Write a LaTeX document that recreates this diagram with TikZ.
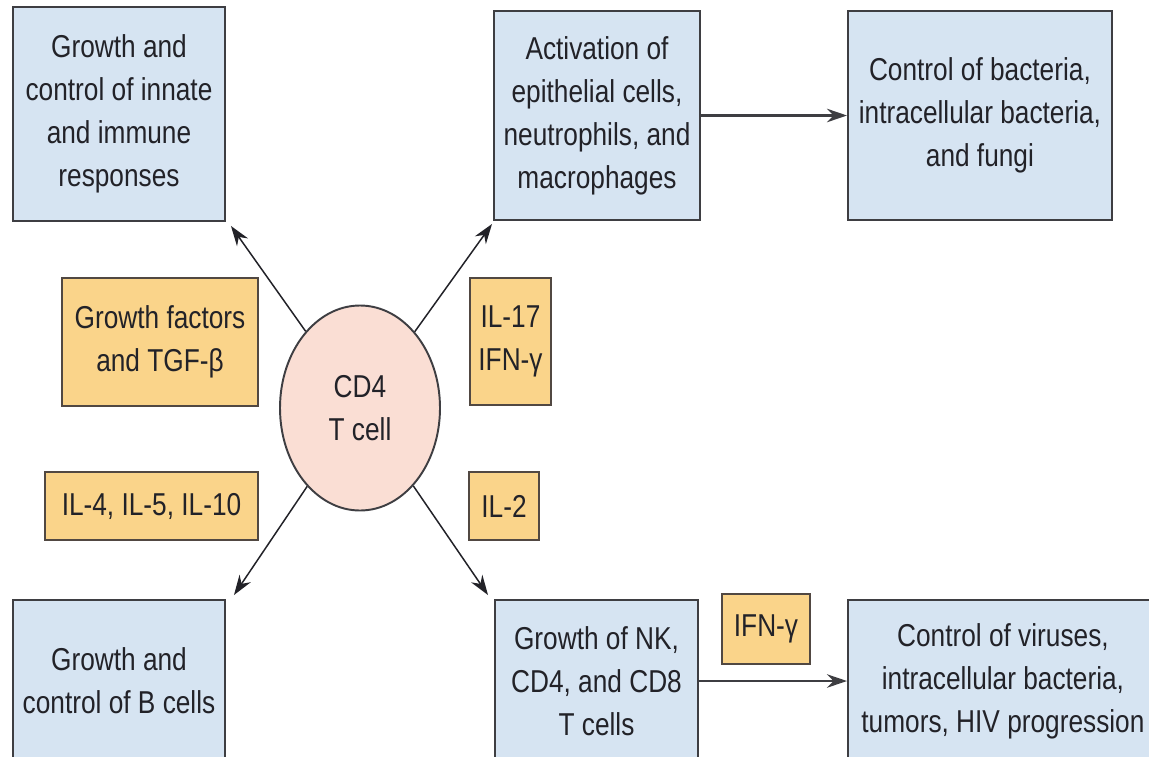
\documentclass[tikz,border=0pt]{standalone}
\usepackage{fontspec}
\setmainfont{Liberation Sans}[FakeStretch=0.83]
\usepackage{tikz}
\usetikzlibrary{shapes.geometric, arrows.meta, positioning}
\definecolor{boxblue}{RGB}{214,228,242}
\definecolor{cytogold}{RGB}{250,212,138}
\definecolor{cellpink}{RGB}{250,222,212}
\definecolor{edgegrey}{RGB}{62,62,66}
\definecolor{inkgrey}{RGB}{34,34,40}

\begin{document}
\begin{tikzpicture}[
  box/.style={rectangle, draw=edgegrey, line width=1.1pt, fill=boxblue, align=center,
              text=inkgrey, inner sep=0pt, font=\fontsize{18}{24.5}\selectfont},
  cyto/.style={box, fill=cytogold, draw=edgegrey!85!brown},
  cell/.style={ellipse, draw=edgegrey, line width=1.1pt, fill=cellpink, align=center,
               text=inkgrey, inner sep=0pt, minimum width=3.2cm, minimum height=4.1cm,
               font=\fontsize{18}{24.5}\selectfont},
  arr/.style={-{Stealth[length=4mm, width=2.7mm]}, draw=inkgrey, line width=0.85pt},
  harr/.style={arr, draw=edgegrey, line width=1.3pt}
]
\useasboundingbox (0,0) rectangle (22.98,-15.12);

\node[cell] (tcell) at (7.2,-8.16) {CD4\\ T cell};

\node[box, minimum width=4.24cm, minimum height=4.28cm] (innate) at (2.38,-2.28)
  {Growth and\\ control of innate\\ and immune\\ responses};
\node[box, minimum width=4.12cm, minimum height=4.18cm] (activ) at (11.94,-2.31)
  {Activation of\\ epithelial cells,\\ neutrophils, and\\ macrophages};
\node[box, minimum width=5.28cm, minimum height=4.18cm, right=2.92cm of activ] (bact)
  {Control of bacteria,\\ intracellular bacteria,\\ and fungi};

\node[cyto, minimum width=3.92cm, minimum height=2.56cm] (tgf) at (3.2,-6.84)
  {Growth factors\\ and TGF-β};
\node[cyto, minimum width=1.62cm, minimum height=2.54cm] (il17) at (10.21,-6.83)
  {IL-17\\ IFN-γ};
\node[cyto, minimum width=4.26cm, minimum height=1.36cm] (il4) at (3.03,-10.12)
  {IL-4, IL-5, IL-10};
\node[cyto, minimum width=1.4cm, minimum height=1.36cm] (il2) at (10.08,-10.12)
  {IL-2};

\node[box, minimum width=4.24cm, minimum height=3.24cm] (bcell) at (2.38,-13.62)
  {Growth and\\ control of B cells};
\node[box, minimum width=4.06cm, minimum height=3.24cm] (nkgrow) at (11.93,-13.62)
  {Growth of NK,\\ CD4, and CD8\\ T cells};
\node[box, minimum width=6.2cm, minimum height=3.24cm, right=2.96cm of nkgrow] (virus)
  {Control of viruses,\\ intracellular bacteria,\\ tumors, HIV progression};
\node[cyto, minimum width=1.76cm, minimum height=1.4cm] (ifng) at (15.32,-12.58)
  {IFN-γ};

\draw[arr] (tcell) -- ([shift={(0.1,-0.08)}]innate.south east);
\draw[arr] (tcell) -- ([shift={(-0.02,-0.06)}]activ.south west);
\draw[arr] (tcell) -- ([shift={(0.16,0.08)}]bcell.north east);
\draw[arr] (tcell) -- ([shift={(-0.12,0.08)}]nkgrow.north west);
\draw[harr] (activ) -- (bact);
\draw[harr] (nkgrow) -- (virus);
\end{tikzpicture}
\end{document}
